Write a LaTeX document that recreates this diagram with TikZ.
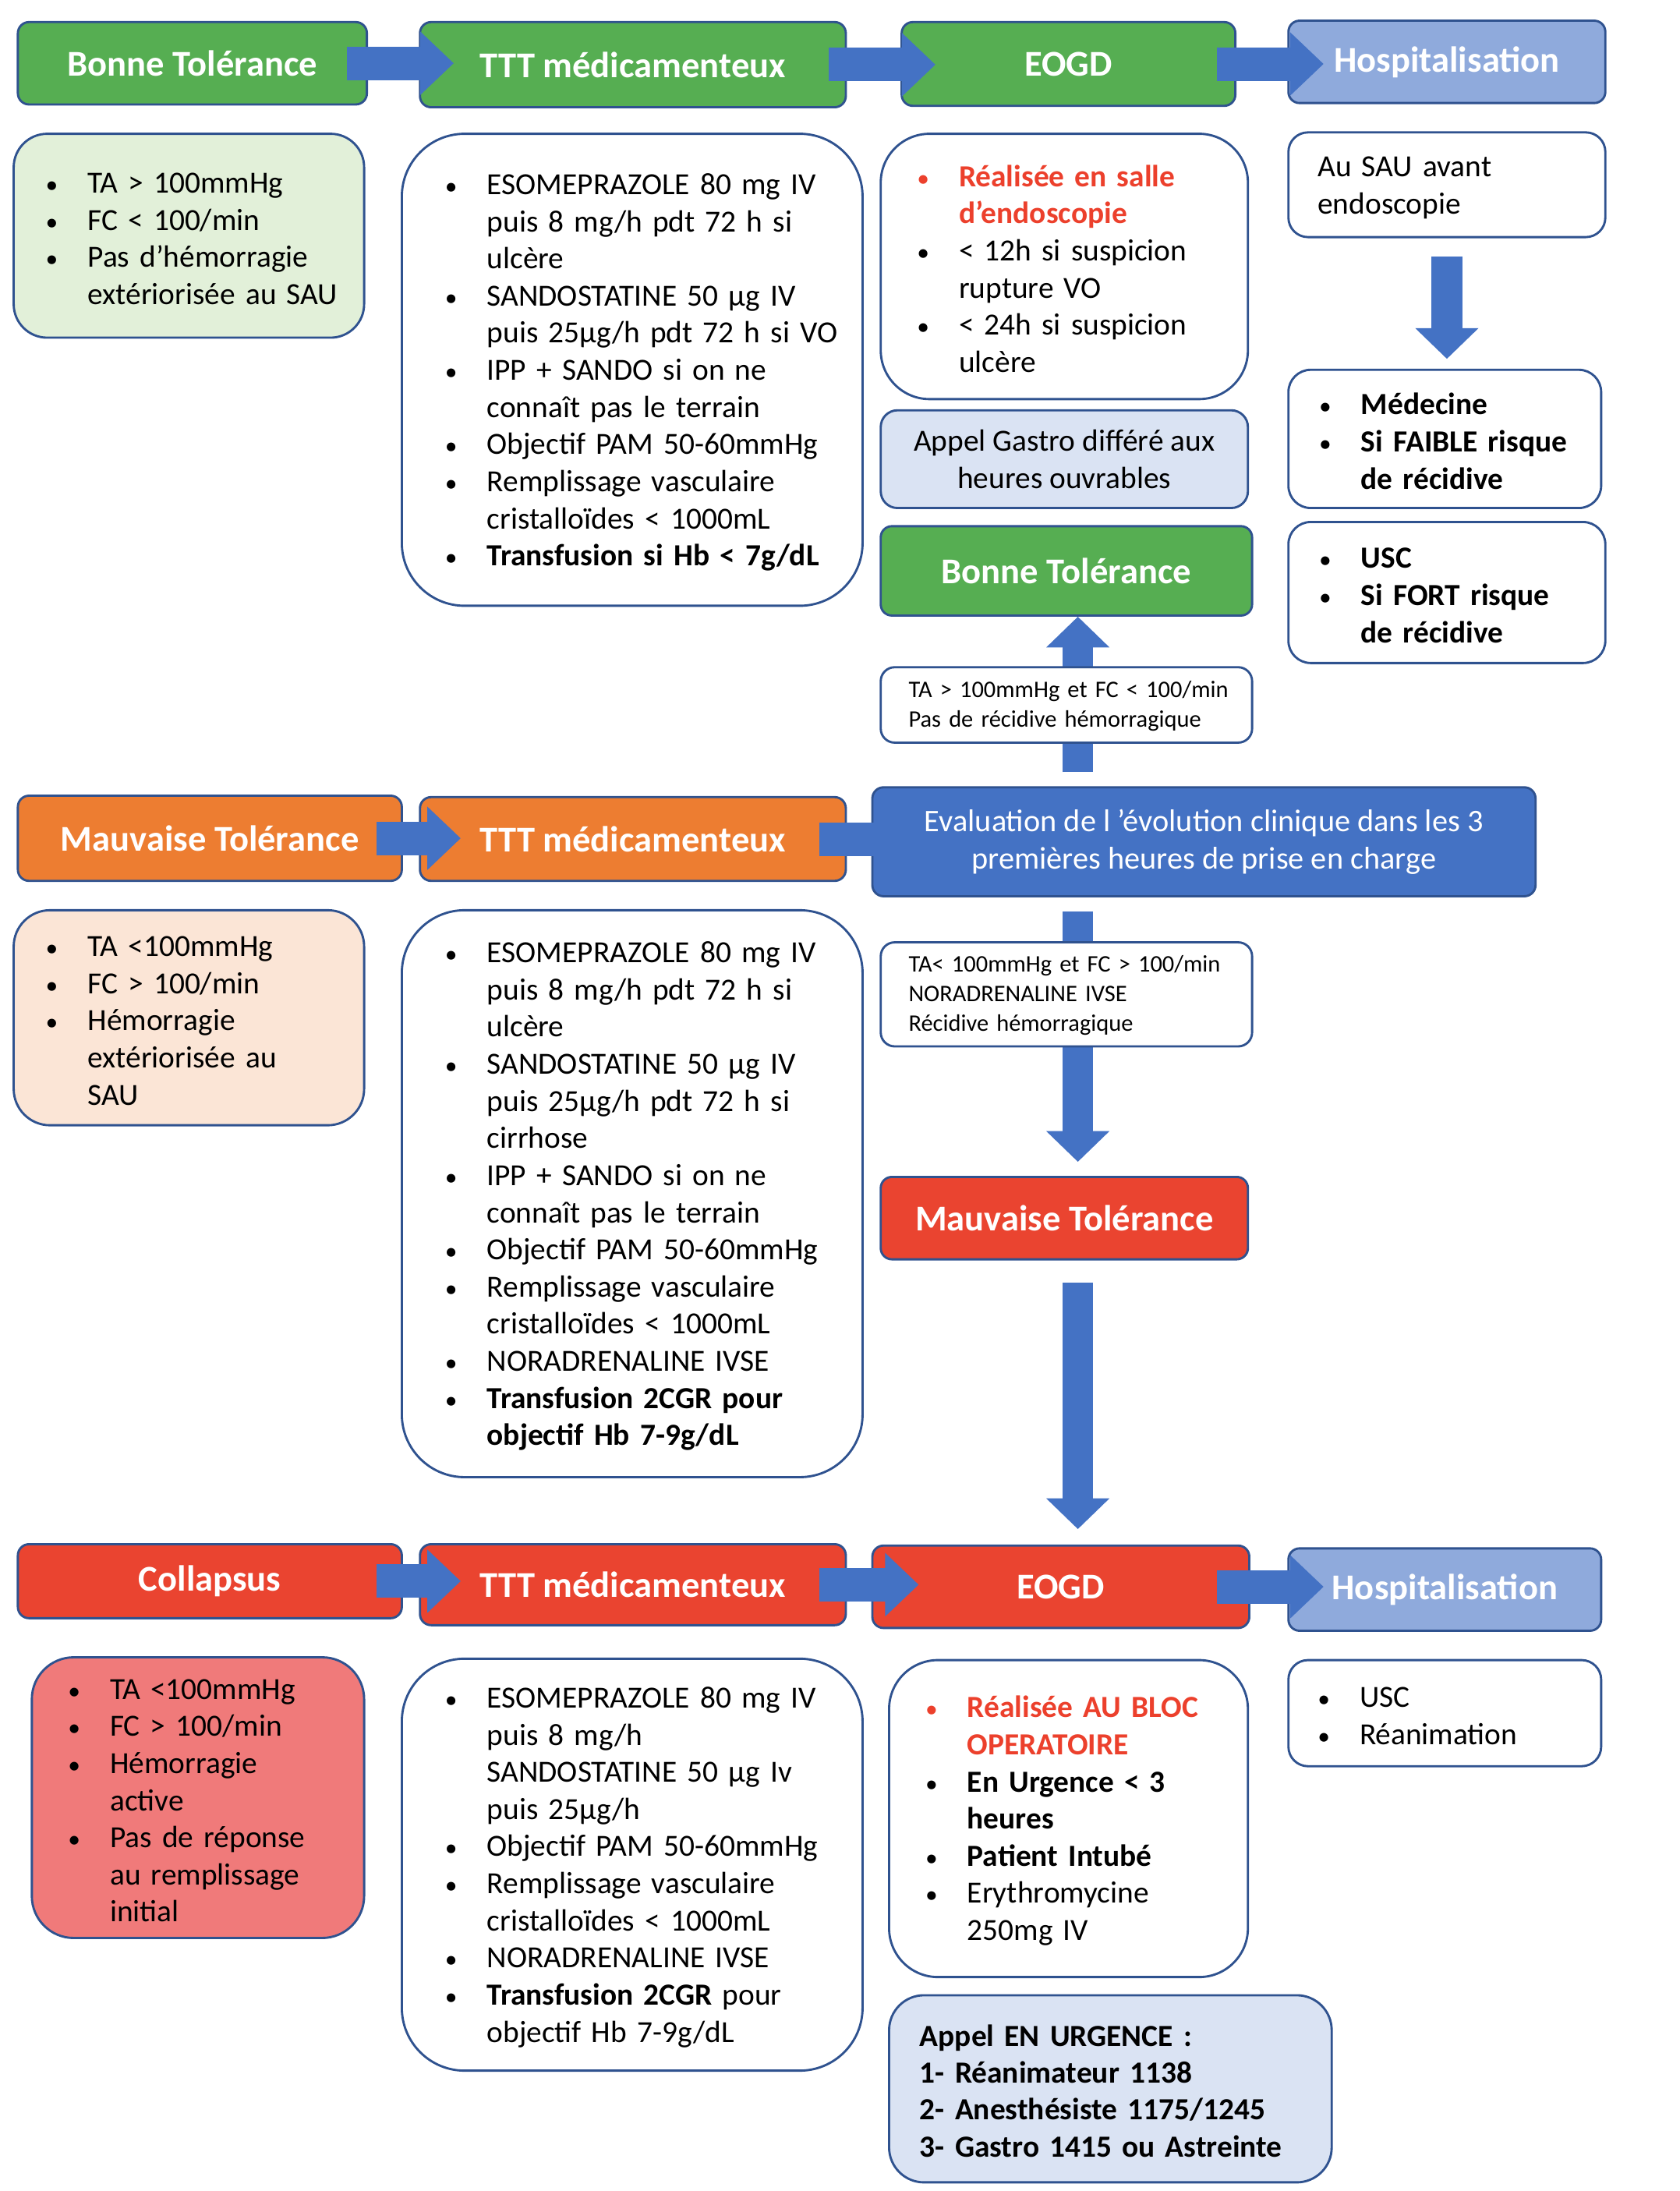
\documentclass[tikz,border=0pt]{standalone}
\usepackage{fontspec}
\setmainfont{Carlito}
\usetikzlibrary{calc}
\usetikzlibrary{arrows.meta}
\usetikzlibrary{positioning}

\definecolor{tolGreen}{RGB}{86,174,82}
\definecolor{warnOrange}{RGB}{237,125,49}
\definecolor{shockRed}{RGB}{234,68,48}
\definecolor{hospBlue}{RGB}{143,170,220}
\definecolor{evalBlue}{RGB}{68,114,196}
\definecolor{arrowBlue}{RGB}{68,114,196}
\definecolor{boxBorder}{RGB}{47,82,143}
\definecolor{paleGreen}{RGB}{226,240,217}
\definecolor{palePeach}{RGB}{251,229,214}
\definecolor{paleSalmon}{RGB}{240,122,122}
\definecolor{paleBlue}{RGB}{218,227,243}
\definecolor{alertRed}{RGB}{236,64,44}

% one line of a list: bullet, continuation, plain
\newcommand{\bul}{\scalebox{0.8}{\textbullet}}
\newcommand{\itm}[1]{\par\noindent\makebox[30pt][l]{\bul}\mbox{#1}}
\newcommand{\ctn}[1]{\par\noindent\hspace*{30pt}\mbox{#1}}
\newcommand{\ritm}[1]{\par\noindent\makebox[30pt][l]{\color{alertRed}\bul}\mbox{\color{alertRed}\bfseries #1}}
\newcommand{\rctn}[1]{\par\noindent\hspace*{30pt}\mbox{\color{alertRed}\bfseries #1}}
\newcommand{\lne}[1]{\par\noindent\mbox{#1}}

\tikzset{
    titleBox/.style={
        ,   draw=boxBorder
        ,   line width=1.6pt
        ,   rounded corners=8pt
        ,   text=white
        ,   font=\fontsize{26}{31}\selectfont\bfseries
        ,   anchor=north west
        ,   inner sep=0pt
    },
    goodTitle/.style={titleBox, fill=tolGreen},
    badTitle/.style={titleBox, fill=warnOrange},
    shockTitle/.style={titleBox, fill=shockRed},
    hospTitle/.style={titleBox, fill=hospBlue},
    evalTitle/.style={titleBox, fill=evalBlue, align=center, font=\fontsize{22.5}{27}\selectfont},
    listBox/.style={
        ,   draw=boxBorder
        ,   line width=1.6pt
        ,   rounded corners=#1
        ,   fill=white
        ,   text=black
        ,   align=left
        ,   anchor=north west
        ,   inner ysep=0pt
        ,   font=\fontsize{22}{26.6}\selectfont
        ,   execute at end node={\par\vspace*{8pt}}
    },
    condBox/.style={listBox=10pt, font=\fontsize{17}{21.2}\selectfont, inner xsep=20pt, text width=226pt, minimum width=266pt},
    flowArrow/.style={
        ,   draw=arrowBlue
        ,   line width=24pt
        ,   -{Triangle[length=24pt,width=44pt]}
    },
    downArrow/.style={
        ,   draw=arrowBlue
        ,   line width=22pt
        ,   -{Triangle[length=22pt,width=44pt]}
    },
}

\begin{document}
\begin{tikzpicture}[x=1pt, y=-1pt]
    \useasboundingbox (0,0) rectangle (1203,1569);

    % row 1 : bonne tolerance
    \node[goodTitle, minimum width=250pt, minimum height=59pt] (bt1) at (12,15) {Bonne Tolérance};
    \node[goodTitle, minimum width=305pt, minimum height=61pt] (ttt1) at (300,15) {TTT médicamenteux};
    \node[goodTitle, minimum width=239pt, minimum height=60pt] (eogd1) at (645,15) {EOGD};
    \node[hospTitle, minimum width=227pt, minimum height=59pt] (hosp1) at (922,14) {Hospitalisation};

    \node[listBox=24pt, fill=paleGreen, inner xsep=23pt, text width=205pt, minimum width=251pt, minimum height=146pt] (crit1) at (9,95) {%
        \itm{TA > 100mmHg}
        \itm{FC < 100/min}
        \itm{Pas d'hémorragie}
        \ctn{extériorisée au SAU}};
    \node[listBox=45pt, inner xsep=31pt, text width=268pt, minimum width=330pt, minimum height=338pt] (med1) at (287,95) {%
        \itm{ESOMEPRAZOLE 80 mg IV}
        \ctn{puis 8 mg/h pdt 72 h si}
        \ctn{ulcère}
        \itm{SANDOSTATINE 50 µg IV}
        \ctn{puis 25µg/h pdt 72 h si VO}
        \itm{IPP + SANDO si on ne}
        \ctn{connaît pas le terrain}
        \itm{Objectif PAM 50-60mmHg}
        \itm{Remplissage vasculaire}
        \ctn{cristalloïdes < 1000mL}
        \itm{\textbf{Transfusion si Hb < 7g/dL}}};
    \node[listBox=35pt, inner xsep=26pt, text width=211pt, minimum width=263pt, minimum height=190pt] (endo1) at (630,95) {%
        \ritm{Réalisée en salle}
        \rctn{d’endoscopie}
        \itm{< 12h si suspicion}
        \ctn{rupture VO}
        \itm{< 24h si suspicion}
        \ctn{ulcère}};
    \node[listBox=12pt, fill=paleBlue, align=center, minimum width=263pt, minimum height=70pt] (appel1) at (630,293) {Appel Gastro différé aux\\heures ouvrables};
    \node[goodTitle, minimum width=266pt, minimum height=64pt] (bt2) at (630,376) {Bonne Tolérance};

    \node[listBox=14pt, inner xsep=21pt, text width=185pt, minimum width=227pt, minimum height=75pt] (sau) at (922,94) {%
        \lne{Au SAU avant}
        \lne{endoscopie}};
    \node[listBox=16pt, inner xsep=22pt, text width=180pt, minimum width=224pt, minimum height=99pt] (medecine) at (922,264) {%
        \itm{\textbf{Médecine}}
        \itm{\textbf{Si FAIBLE risque}}
        \ctn{\textbf{de récidive}}};
    \node[listBox=16pt, inner xsep=22pt, text width=183pt, minimum width=227pt, minimum height=101pt] (usc1) at (922,373) {%
        \itm{\textbf{USC}}
        \itm{\textbf{Si FORT risque}}
        \ctn{\textbf{de récidive}}};

    % row 2 : mauvaise tolerance
    \node[badTitle, minimum width=275pt, minimum height=61pt] (mt1) at (12,569) {Mauvaise Tolérance};
    \node[badTitle, minimum width=305pt, minimum height=60pt] (ttt2) at (300,570) {TTT médicamenteux};
    \node[evalTitle, minimum width=475pt, minimum height=78pt] (eval) at (624,563) {Evaluation de l ’évolution clinique dans les 3\\premières heures de prise en charge};

    \node[listBox=26pt, fill=palePeach, inner xsep=23pt, text width=205pt, minimum width=251pt, minimum height=154pt] (crit2) at (9,651) {%
        \itm{TA <100mmHg}
        \itm{FC > 100/min}
        \itm{Hémorragie}
        \ctn{extériorisée au}
        \ctn{SAU}};
    \node[listBox=45pt, inner xsep=31pt, text width=268pt, minimum width=330pt, minimum height=406pt] (med2) at (287,651) {%
        \itm{ESOMEPRAZOLE 80 mg IV}
        \ctn{puis 8 mg/h pdt 72 h si}
        \ctn{ulcère}
        \itm{SANDOSTATINE 50 µg IV}
        \ctn{puis 25µg/h pdt 72 h si}
        \ctn{cirrhose}
        \itm{IPP + SANDO si on ne}
        \ctn{connaît pas le terrain}
        \itm{Objectif PAM 50-60mmHg}
        \itm{Remplissage vasculaire}
        \ctn{cristalloïdes < 1000mL}
        \itm{NORADRENALINE IVSE}
        \itm{\textbf{Transfusion 2CGR pour}}
        \ctn{\textbf{objectif Hb 7-9g/dL}}};
    \node[shockTitle, minimum width=263pt, minimum height=59pt] (mt2) at (630,842) {Mauvaise Tolérance};

    % row 3 : collapsus
    \node[shockTitle, minimum width=275pt, minimum height=53pt] (col) at (12,1105) {Collapsus};
    \node[shockTitle, minimum width=305pt, minimum height=58pt] (ttt3) at (300,1105) {TTT médicamenteux};
    \node[shockTitle, minimum width=270pt, minimum height=59pt] (eogd2) at (624,1106) {EOGD};
    \node[hospTitle, minimum width=224pt, minimum height=59pt] (hosp2) at (922,1108) {Hospitalisation};

    \node[listBox=30pt, fill=paleSalmon, inner xsep=26pt, text width=186pt, minimum width=238pt, minimum height=201pt] (crit3) at (22,1186) {%
        \itm{TA <100mmHg}
        \itm{FC > 100/min}
        \itm{Hémorragie}
        \ctn{active}
        \itm{Pas de réponse}
        \ctn{au remplissage}
        \ctn{initial}};
    \node[listBox=45pt, inner xsep=31pt, text width=268pt, minimum width=330pt, minimum height=295pt] (med3) at (287,1187) {%
        \itm{ESOMEPRAZOLE 80 mg IV}
        \ctn{puis 8 mg/h}
        \ctn{SANDOSTATINE 50 µg Iv}
        \ctn{puis 25µg/h}
        \itm{Objectif PAM 50-60mmHg}
        \itm{Remplissage vasculaire}
        \ctn{cristalloïdes < 1000mL}
        \itm{NORADRENALINE IVSE}
        \itm{\textbf{Transfusion 2CGR} pour}
        \ctn{objectif Hb 7-9g/dL}};
    \node[listBox=35pt, inner xsep=26pt, text width=205pt, minimum width=257pt, minimum height=227pt] (endo2) at (636,1188) {%
        \ritm{Réalisée AU BLOC}
        \rctn{OPERATOIRE}
        \itm{\textbf{En Urgence < 3}}
        \ctn{\textbf{heures}}
        \itm{\textbf{Patient Intubé}}
        \itm{Erythromycine}
        \ctn{250mg IV}};
    \node[listBox=25pt, fill=paleBlue, inner xsep=22pt, text width=273pt, minimum width=317pt, minimum height=134pt, font=\fontsize{22}{26.4}\selectfont\bfseries] (urg) at (636,1428) {%
        \lne{Appel EN URGENCE :}
        \lne{1- Réanimateur 1138}
        \lne{2- Anesthésiste 1175/1245}
        \lne{3- Gastro 1415 ou Astreinte}};
    \node[listBox=14pt, inner xsep=21pt, text width=182pt, minimum width=224pt, minimum height=76pt] (hosp3) at (922,1188) {%
        \itm{USC}
        \itm{Réanimation}};

    % horizontal arrows
    \draw[flowArrow] ($(bt1.east)+(-15,0)$) -- ($(bt1.east -| ttt1.west)+(25,0)$);
    \draw[flowArrow] ($(ttt1.east)+(-13,0)$) -- ($(ttt1.east -| eogd1.west)+(25,0)$);
    \draw[flowArrow] ($(eogd1.east)+(-14,0)$) -- ($(eogd1.east -| hosp1.west)+(26,0)$);
    \draw[flowArrow] ($(mt1.east)+(-19,0)$) -- ($(mt1.east -| ttt2.west)+(30,0)$);
    \draw[flowArrow] ($(ttt2.east)+(-20,0)$) -- ($(ttt2.east -| eval.west)+(34,0)$);
    \draw[flowArrow] ($(col.east)+(-19,0)$) -- ($(col.east -| ttt3.west)+(30,0)$);
    \draw[flowArrow] ($(ttt3.east)+(-20,0)$) -- ($(ttt3.east -| eogd2.west)+(34,0)$);
    \draw[flowArrow] ($(eogd2.east)+(-24,0)$) -- ($(eogd2.east -| hosp2.west)+(26,0)$);

    % vertical arrows
    \coordinate (midX) at (772,0);
    \draw[downArrow] ($(eval.north -| midX)+(0,-10)$) -- (bt2.south -| midX);
    \draw[downArrow] ($(eval.south -| midX)+(0,10)$) -- ($(mt2.north -| midX)+(0,-10)$);
    \draw[downArrow] ($(mt2.south -| midX)+(0,16)$) -- ($(eogd2.north -| midX)+(0,-11)$);
    \draw[downArrow] ($(sau.south)+(0,13)$) -- ($(medecine.north -| sau.south)+(0,-7)$);

    % conditions on top of the shafts
    \node[condBox, minimum height=54pt] (cond1) at (630,477) {%
        \lne{TA > 100mmHg et FC < 100/min}
        \lne{Pas de récidive hémorragique}};
    \node[condBox, minimum height=74pt] (cond2) at (630,674) {%
        \lne{TA< 100mmHg et FC > 100/min}
        \lne{NORADRENALINE IVSE}
        \lne{Récidive hémorragique}};
\end{tikzpicture}
\end{document}
